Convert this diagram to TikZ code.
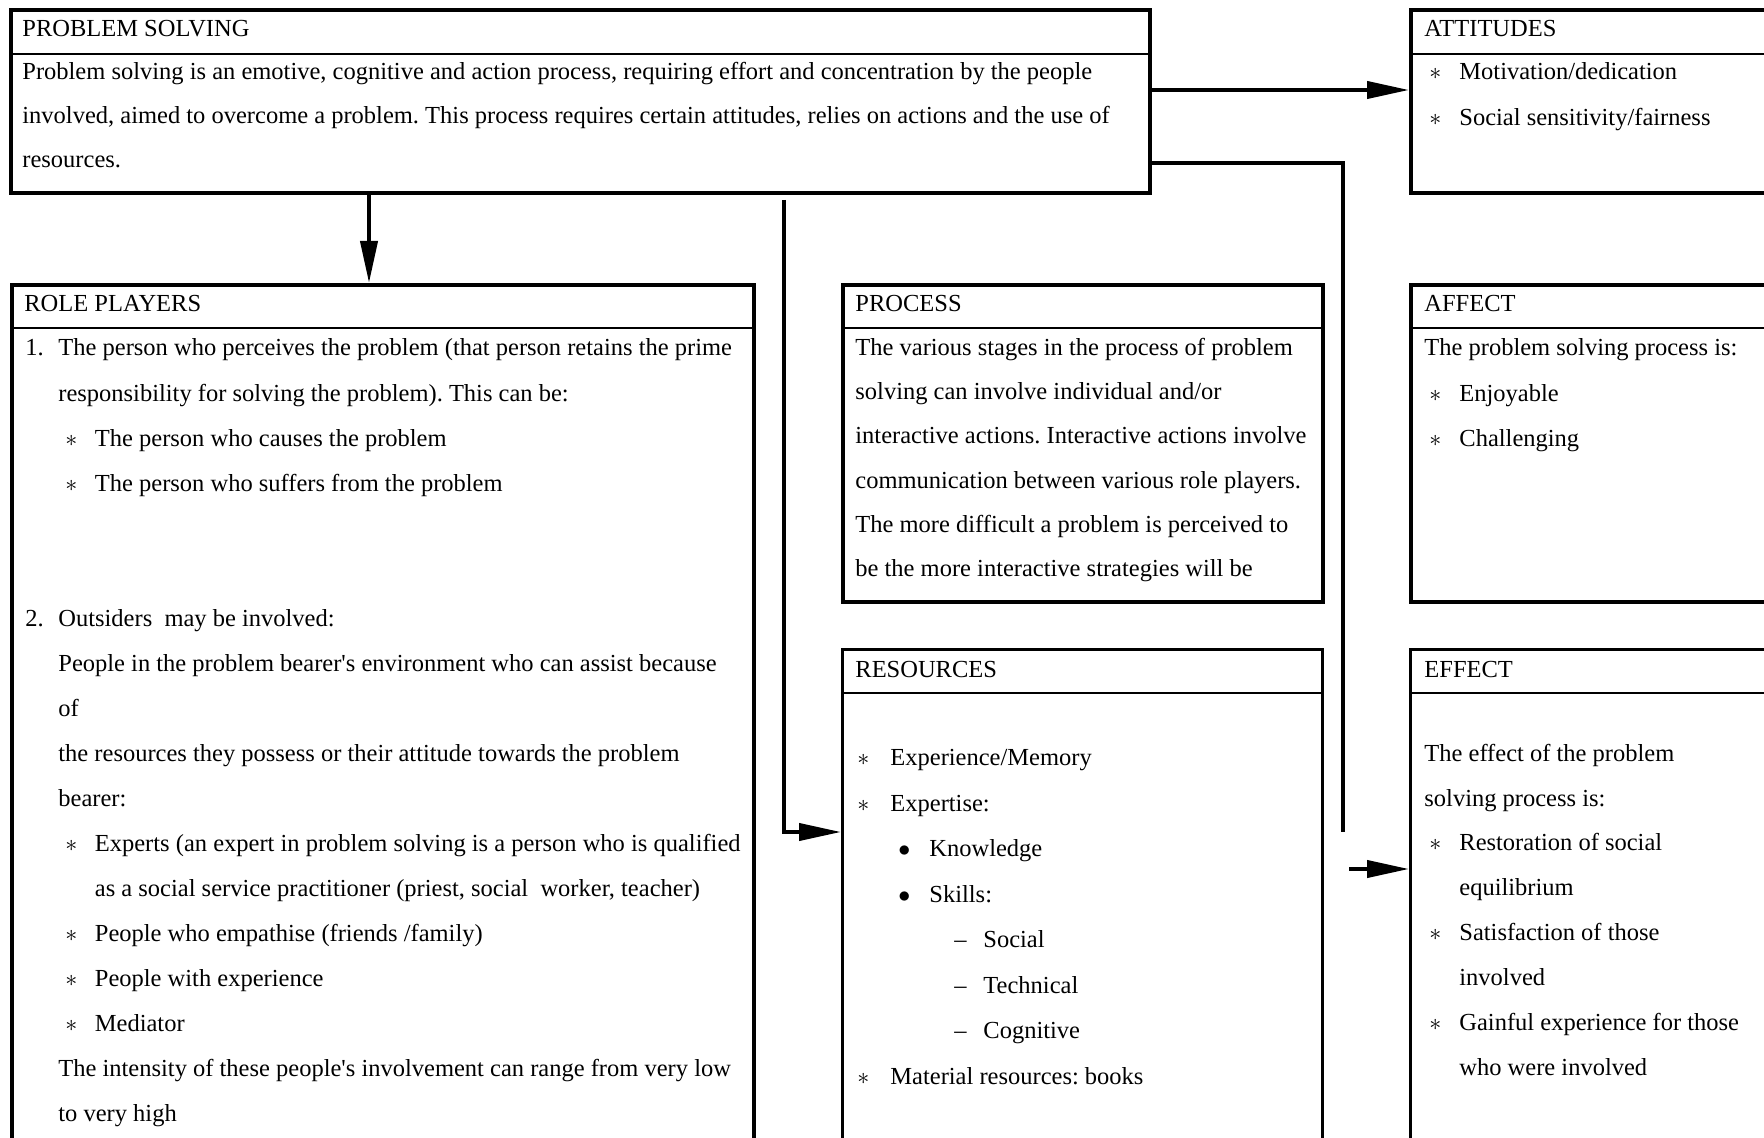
\documentclass[tikz,border=0pt]{standalone}
\usepackage{fontspec}
\setmainfont{Liberation Serif}[Ligatures=TeXOff]
\usetikzlibrary{arrows.meta,calc}
\frenchspacing

\begin{document}
\begin{tikzpicture}[x=0.5pt,y=-0.5pt,
  box/.style={draw,line width=2pt,anchor=north west,inner sep=0pt},
  thinbox/.style={draw,line width=1.3pt,anchor=north west,inner sep=0pt},
  divider/.style={line width=1.2pt},
  arr/.style={line width=2pt,-{Triangle[length=21pt,width=8.5pt]}},
  link/.style={line width=2pt},
  txt/.style={anchor=base west,inner sep=0pt,yshift=-2pt,font=\fontsize{12.25pt}{14pt}\selectfont}]
\newcommand{\tl}[4]{\node[txt] (#1) at (#2,#3) {#4};}
\newcommand{\st}[3]{\node[txt] (#1) at (#2,#3) {$\ast$};}
\newcommand{\bl}[3]{\node[txt] (#1) at (#2,#3) {$\bullet$};}

\useasboundingbox (0,0) rectangle (1764,1138);
\clip (0,0) rectangle (1764,1138);

% boxes
\node[box,minimum width=569.5pt,minimum height=91.5pt] (ps) at (9,8) {};
\node[box,minimum width=250pt,minimum height=91.5pt] (att) at (1409,8) {};
\node[box,minimum width=371pt,minimum height=500pt] (role) at (10,283) {};
\node[box,minimum width=240pt,minimum height=158.5pt] (proc) at (841,283) {};
\node[box,minimum width=250pt,minimum height=158.5pt] (aff) at (1409,283) {};
\node[thinbox,minimum width=240pt,minimum height=300pt] (res) at (841,648) {};
\node[thinbox,minimum width=250pt,minimum height=300pt] (eff) at (1409,648) {};

% header dividers
\draw[divider] ($(ps.north west)+(0,46)$) -- ($(ps.north east)+(0,46)$);
\draw[divider] ($(att.north west)+(0,46)$) -- ($(att.north east)+(0,46)$);
\foreach \b in {role,proc,aff,res,eff}
  \draw[divider] ($(\b.north west)+(0,45)$) -- ($(\b.north east)+(0,45)$);

% connectors
\draw[arr] ($(ps.north east)+(0,82)$) -- ($(att.north west)+(0,82)$);
\draw[arr] ($(ps.south west)+(360,0)$) -- ($(role.north west)+(359,0)$);
\draw[arr] ($(ps.south west)+(775,5)$) |- ($(res.north west)+(0,184)$);
\coordinate (bend) at (1343,832);
\coordinate (tail) at (1349,869);
\draw[link] ($(ps.north east)+(0,155)$) -| (bend);
\draw[arr] (tail) -- ($(eff.north west)+(0,221)$);

% PROBLEM SOLVING
\tl{psT}{22}{33}{PROBLEM SOLVING}
\tl{ps1}{22}{76}{Problem solving is an emotive, cognitive and action process, requiring effort and concentration by the people}
\tl{ps2}{22}{120}{involved, aimed to overcome a problem. This process requires certain attitudes, relies on actions and the use of}
\tl{ps3}{22}{164}{resources.}

% ATTITUDES
\tl{attT}{1424}{33}{ATTITUDES}
\st{attS1}{1429}{76}\tl{att1}{1459}{76}{Motivation/dedication}
\st{attS2}{1429}{122}\tl{att2}{1459}{122}{Social sensitivity/fairness}

% ROLE PLAYERS
\tl{roleT}{24}{308}{ROLE PLAYERS}
\tl{rN1}{25}{352}{1.}
\tl{r0}{58}{352}{The person who perceives the problem (that person retains the prime}
\tl{r1}{58}{397}{responsibility for solving the problem). This can be:}
\st{rS2}{65}{442}\tl{r2}{94.5}{442}{The person who causes the problem}
\st{rS3}{65}{487}\tl{r3}{94.5}{487}{The person who suffers from the problem}
\tl{rN2}{25}{622}{2.}
\tl{r6}{58}{622}{Outsiders\ \ may be involved:}
\tl{r7}{58}{667}{People in the problem bearer's environment who can assist because}
\tl{r8}{58}{712}{of}
\tl{r9}{58}{757}{the resources they possess or their attitude towards the problem}
\tl{r10}{58}{802}{bearer:}
\st{rS11}{65}{847}\tl{r11}{94.5}{847}{Experts (an expert in problem solving is a person who is qualified}
\tl{r12}{94.5}{892}{as a social service practitioner (priest, social\ \ worker, teacher)}
\st{rS13}{65}{937}\tl{r13}{94.5}{937}{People who empathise (friends /family)}
\st{rS14}{65}{982}\tl{r14}{94.5}{982}{People with experience}
\st{rS15}{65}{1027}\tl{r15}{94.5}{1027}{Mediator}
\tl{r16}{58}{1072}{The intensity of these people's involvement can range from very low}
\tl{r17}{58}{1117}{to very high}

% PROCESS
\tl{procT}{855}{308}{PROCESS}
\tl{p0}{855}{352}{The various stages in the process of problem}
\tl{p1}{855}{396}{solving can involve individual and/or}
\tl{p2}{855}{440}{interactive actions. Interactive actions involve}
\tl{p3}{855}{484}{communication between various role players.}
\tl{p4}{855}{528}{The more difficult a problem is perceived to}
\tl{p5}{855}{572}{be the more interactive strategies will be}

% AFFECT
\tl{affT}{1424}{308}{AFFECT}
\tl{a0}{1424}{352}{The problem solving process is:}
\st{aS1}{1429}{397}\tl{a1}{1459}{397}{Enjoyable}
\st{aS2}{1429}{442}\tl{a2}{1459}{442}{Challenging}

% RESOURCES
\tl{resT}{855}{673}{RESOURCES}
\st{sS1}{857}{761.5}\tl{s1}{890}{761.5}{Experience/Memory}
\st{sS2}{857}{807}\tl{s2}{890}{807}{Expertise:}
\bl{sB3}{898}{852.5}\tl{s3}{929}{852.5}{Knowledge}
\bl{sB4}{898}{898}\tl{s4}{929}{898}{Skills:}
\tl{sD5}{954}{943.5}{\textendash}\tl{s5}{983}{943.5}{Social}
\tl{sD6}{954}{989}{\textendash}\tl{s6}{983}{989}{Technical}
\tl{sD7}{954}{1034.5}{\textendash}\tl{s7}{983}{1034.5}{Cognitive}
\st{sS8}{857}{1080}\tl{s8}{890}{1080}{Material resources: books}

% EFFECT
\tl{effT}{1424}{673}{EFFECT}
\tl{e1}{1424}{757}{The effect of the problem}
\tl{e2}{1424}{802}{solving process is:}
\st{eS3}{1429}{846}\tl{e3}{1459}{846}{Restoration of social}
\tl{e4}{1459}{891}{equilibrium}
\st{eS5}{1429}{936}\tl{e5}{1459}{936}{Satisfaction of those}
\tl{e6}{1459}{981}{involved}
\st{eS7}{1429}{1026}\tl{e7}{1459}{1026}{Gainful experience for those}
\tl{e8}{1459}{1071}{who were involved}
\end{tikzpicture}
\end{document}
